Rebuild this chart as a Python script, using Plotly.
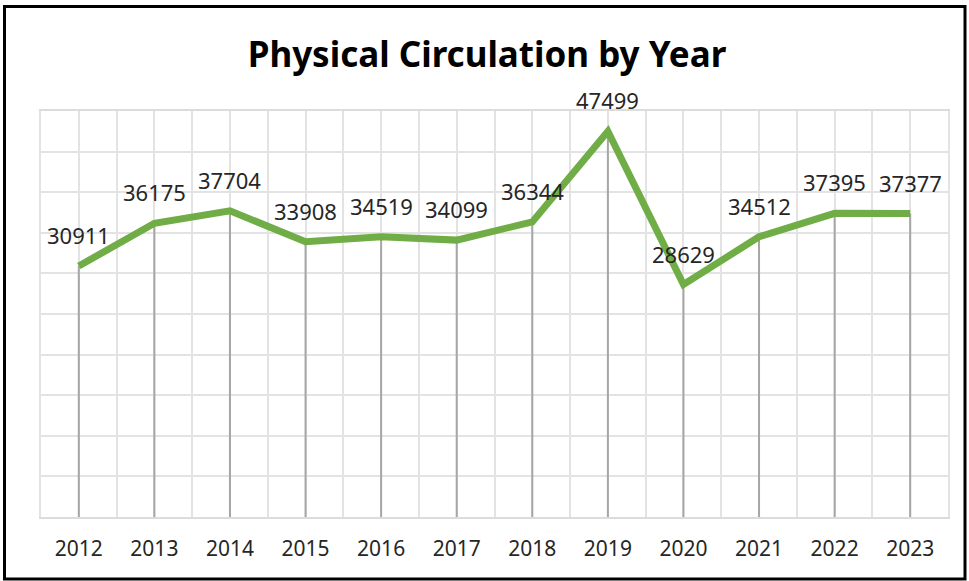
import plotly.graph_objects as go

# values
years = [2012, 2013, 2014, 2015, 2016, 2017, 2018, 2019, 2020, 2021, 2022, 2023]
circulation = [30911, 36175, 37704, 33908, 34519, 34099, 36344, 47499, 28629, 34512, 37395, 37377]

W, H = 969, 581
L, R, T, B = 41, 21, 111, 64
pw, ph = W - L - R, H - T - B

def px_x(x):
    return (x - L) / pw

def px_y(y):
    return (H - B - y) / ph

fig = go.Figure()

# drop lines from each point down to the axis
drop_x, drop_y = [], []
for yr, v in zip(years, circulation):
    drop_x += [yr, yr, None]
    drop_y += [0, v, None]
fig.add_trace(go.Scatter(x=drop_x, y=drop_y, mode="lines",
                         line=dict(color="#a6a6a6", width=2),
                         hoverinfo="skip", showlegend=False))

fig.add_trace(go.Scatter(x=years, y=circulation, mode="lines",
                         line=dict(color="#70ad47", width=7),
                         showlegend=False, name="Physical Circulation"))

for yr, v in zip(years, circulation):
    fig.add_annotation(x=yr, y=v, text=str(v), showarrow=False,
                       yshift=31, font=dict(family="Noto Sans", size=22, color="#262626"))

# outer border
fig.add_shape(type="rect", xref="paper", yref="paper",
              x0=px_x(4.5), x1=px_x(965), y0=px_y(579), y1=px_y(6.5),
              line=dict(color="black", width=3), layer="above")

fig.update_layout(
    width=W, height=H,
    margin=dict(l=L, r=R, t=T, b=B),
    paper_bgcolor="white", plot_bgcolor="white",
    title=dict(text="<b>Physical Circulation by Year</b>", x=487 / W, xanchor="center",
               y=1 - 55 / H, yanchor="middle",
               font=dict(family="Noto Sans", size=35, color="black")),
    font=dict(family="Noto Sans", color="#262626"),
)
fig.update_xaxes(range=[2011.5, 2023.5], tickmode="array", tickvals=years,
                 ticktext=[str(y) for y in years], showgrid=True, gridcolor="#e3e3e3",
                 gridwidth=2, zeroline=False, showline=True, mirror=True,
                 linecolor="#dcdcdc", linewidth=2,
                 tickfont=dict(size=21, color="#262626"), ticks="", ticklabelstandoff=12,
                 minor=dict(tick0=2011.5, dtick=0.5, showgrid=True, gridcolor="#e3e3e3", gridwidth=2))
fig.update_yaxes(range=[0, 50000], dtick=5000, showgrid=True, gridcolor="#e3e3e3", gridwidth=2,
                 showticklabels=False, zeroline=False, showline=True, mirror=True,
                 linecolor="#e3e3e3", linewidth=2)

fig.write_html("out.html", config={"displayModeBar": False},
               post_script="document.body.style.margin='0';")
